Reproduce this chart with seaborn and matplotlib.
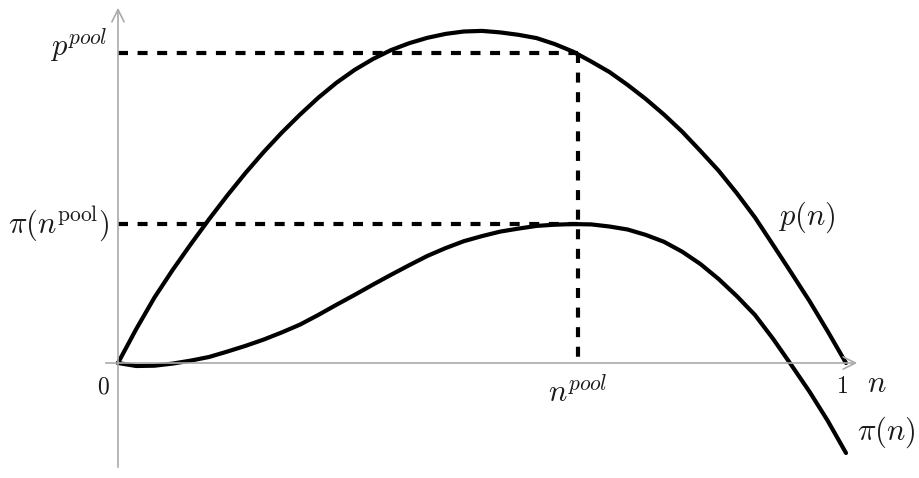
import matplotlib
matplotlib.use("Agg")
import matplotlib.pyplot as plt
import seaborn as sns
import pandas as pd

# Market share grid and the two curves read at each step
n_grid = [0.000, 0.025, 0.050, 0.075, 0.100, 0.125, 0.150, 0.175, 0.200, 0.225,
          0.250, 0.275, 0.300, 0.325, 0.350, 0.375, 0.400, 0.425, 0.450, 0.475,
          0.500, 0.525, 0.550, 0.575, 0.600, 0.625, 0.650, 0.675, 0.700, 0.725,
          0.750, 0.775, 0.800, 0.825, 0.850, 0.875, 0.900, 0.925, 0.950, 0.975,
          1.000]
p_vals = [0.000, 0.113, 0.218, 0.310, 0.396, 0.479, 0.558, 0.633, 0.703, 0.768,
          0.828, 0.884, 0.934, 0.977, 1.013, 1.043, 1.066, 1.084, 1.097, 1.105,
          1.107, 1.102, 1.094, 1.083, 1.063, 1.038, 1.005, 0.970, 0.927, 0.880,
          0.828, 0.771, 0.707, 0.641, 0.566, 0.485, 0.393, 0.300, 0.206, 0.105,
          0.000]
pi_vals = [0.000, -0.010, -0.009, -0.002, 0.008, 0.020, 0.038, 0.057, 0.078, 0.102,
           0.128, 0.160, 0.194, 0.227, 0.261, 0.294, 0.326, 0.357, 0.383, 0.406,
           0.423, 0.438, 0.448, 0.457, 0.461, 0.463, 0.462, 0.455, 0.445, 0.427,
           0.404, 0.371, 0.330, 0.280, 0.223, 0.160, 0.080, -0.007, -0.096, -0.193,
           -0.300]

# Pooling point
n_pool = 0.632
p_pool = 1.033
pi_pool = 0.465

curves = pd.concat([
    pd.DataFrame({"n": n_grid, "value": p_vals, "curve": "p"}),
    pd.DataFrame({"n": n_grid, "value": pi_vals, "curve": "pi"}),
])

sns.set_style("white")
plt.rcParams["mathtext.fontset"] = "cm"

fig = plt.figure(figsize=(9.2, 4.78), dpi=100)
ax = fig.add_axes([0, 0, 1, 1])

# 728 px per unit of n, 300 px per unit of value, origin at (118, 363) px
ax.set_xlim(-118 / 728, 802 / 728)
ax.set_ylim(-115 / 300, 363 / 300)
ax.axis("off")

axis_col = "#aaaaaa"
# axes with open arrow heads
ax.annotate("", xy=(0, 358 / 300), xytext=(0, -107 / 300),
            arrowprops=dict(arrowstyle="->", color=axis_col, lw=1.2, mutation_scale=22))
ax.annotate("", xy=(742 / 728, 0), xytext=(-15 / 728, 0),
            arrowprops=dict(arrowstyle="->", color=axis_col, lw=1.2, mutation_scale=22))

dash_kw = dict(color="black", lw=3.0, dashes=(2.4, 2.3), solid_capstyle="butt")
ax.plot([0, n_pool], [p_pool, p_pool], **dash_kw)
ax.plot([0, n_pool], [pi_pool, pi_pool], **dash_kw)
ax.plot([n_pool, n_pool], [p_pool, 0], **dash_kw)

sns.lineplot(data=curves, x="n", y="value", units="curve", estimator=None,
             color="black", linewidth=3.0, ax=ax, legend=False, sort=False)
for line in ax.lines[-1:]:
    line.set_solid_joinstyle("round")

txt = "#1a1a1a"
big = 22
ax.text(-10 / 728, (363 - 56) / 300, r"$p^{pool}$", ha="right", va="baseline",
        fontsize=big, color=txt)
ax.text(-8 / 728, (363 - 233) / 300, r"$\pi(n^{\mathrm{pool}})$", ha="right",
        va="baseline", fontsize=big, color=txt)
ax.text(-15 / 728, (363 - 387) / 300, r"$0$", ha="center", va="center",
        fontsize=17, color=txt)
ax.text(724 / 728, (363 - 386) / 300, r"$1$", ha="center", va="center",
        fontsize=17, color=txt)
ax.text(759 / 728, (363 - 392) / 300, r"$n$", ha="center", va="baseline",
        fontsize=big, color=txt)
ax.text(n_pool, (363 - 402) / 300, r"$n^{pool}$", ha="center", va="baseline",
        fontsize=big, color=txt)
ax.text(660 / 728, (363 - 225) / 300, r"$p(n)$", ha="left", va="baseline",
        fontsize=big, color=txt)
ax.text(739 / 728, (363 - 440) / 300, r"$\pi(n)$", ha="left", va="baseline",
        fontsize=big, color=txt)

fig.savefig("out.png", dpi=100)
